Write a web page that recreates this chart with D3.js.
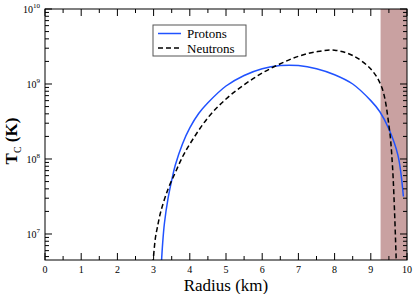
<!DOCTYPE html>
<html>
<head>
<meta charset="utf-8">
<script src="https://cdn.jsdelivr.net/npm/d3@7"></script>
<style>
  body { margin: 0; background: #fff; }
</style>
</head>
<body>
<script>
// radius (km) and critical temperature (K)
const protonR = [3.2, 3.25, 3.3, 3.4, 3.5, 3.6, 3.8, 4.0, 4.25, 4.5, 5.0, 5.5, 6.0, 6.5, 7.0, 7.5, 8.0, 8.5, 9.0, 9.25, 9.5, 9.75, 9.9];
const protonT = [3.0e6, 7.5e6, 1.4e7, 3.0e7, 5.2e7, 8.3e7, 1.6e8, 2.6e8, 4.07e8, 5.62e8, 9.4e8, 1.3e9, 1.6e9, 1.76e9, 1.76e9, 1.6e9, 1.33e9, 1.0e9, 6.0e8, 4.27e8, 2.51e8, 1.12e8, 3.16e7];
const neutronR = [2.98, 3.05, 3.1, 3.2, 3.4, 3.6, 3.8, 4.0, 4.5, 5.0, 5.5, 6.0, 6.5, 7.0, 7.5, 8.0, 8.5, 9.0, 9.3, 9.5, 9.6, 9.705];
const neutronT = [4.0e6, 8.9e6, 1.2e7, 2.0e7, 3.98e7, 6.6e7, 1.07e8, 1.58e8, 3.55e8, 6.31e8, 9.77e8, 1.40e9, 1.86e9, 2.34e9, 2.69e9, 2.82e9, 2.40e9, 1.58e9, 9.1e8, 2.82e8, 7.94e7, 4.0e6];
const shadeRange = [9.27, 10];
const xTicks = [0, 1, 2, 3, 4, 5, 6, 7, 8, 9, 10];
const yDecades = [7, 8, 9, 10];

const svgWidth = 415, svgHeight = 294;
const margin = { top: 9, right: 8, bottom: 34, left: 45 };
const width = svgWidth - margin.left - margin.right;
const height = svgHeight - margin.top - margin.bottom;
const serif = "'Liberation Serif', 'Times New Roman', Times, 'DejaVu Serif', serif";

const svg = d3.select("body")
  .append("svg")
  .attr("width", svgWidth)
  .attr("height", svgHeight)
  .attr("font-family", serif)
  .style("font-family", serif);

const g = svg.append("g")
  .attr("transform", `translate(${margin.left},${margin.top})`);

const x = d3.scaleLinear().domain([0, 10]).range([0, width]);
const y = d3.scaleLog().domain([4.5e6, 1e10]).range([height, 0]);

g.append("clipPath").attr("id", "plot")
  .append("rect").attr("width", width).attr("height", height);

// shaded crust region
g.append("rect")
  .attr("x", x(shadeRange[0]))
  .attr("y", 0)
  .attr("width", x(shadeRange[1]) - x(shadeRange[0]))
  .attr("height", height)
  .attr("fill", "#c9a1a1");

const line = d3.line()
  .x(d => x(d[0]))
  .y(d => y(d[1]))
  .curve(d3.curveCatmullRom.alpha(0.5));

const curves = g.append("g").attr("clip-path", "url(#plot)");

curves.append("path")
  .datum(protonR.map((r, i) => [r, protonT[i]]))
  .attr("d", line)
  .attr("fill", "none")
  .attr("stroke", "#2052ff")
  .attr("stroke-width", 1.5);

curves.append("path")
  .datum(neutronR.map((r, i) => [r, neutronT[i]]))
  .attr("d", line)
  .attr("fill", "none")
  .attr("stroke", "#000")
  .attr("stroke-width", 1.5)
  .attr("stroke-dasharray", "5,3");

// frame
g.append("rect")
  .attr("width", width).attr("height", height)
  .attr("fill", "none").attr("stroke", "#000").attr("stroke-width", 1);

// inward ticks, all four sides
const xMinor = d3.range(0.5, 10, 1);
const ticks = g.append("g").attr("stroke", "#000").attr("stroke-width", 1);
xTicks.forEach(t => {
  ticks.append("line").attr("x1", x(t)).attr("x2", x(t)).attr("y1", height).attr("y2", height - 7);
  ticks.append("line").attr("x1", x(t)).attr("x2", x(t)).attr("y1", 0).attr("y2", 7);
});
xMinor.forEach(t => {
  ticks.append("line").attr("x1", x(t)).attr("x2", x(t)).attr("y1", height).attr("y2", height - 4);
  ticks.append("line").attr("x1", x(t)).attr("x2", x(t)).attr("y1", 0).attr("y2", 4);
});
const yMinor = [];
[6, 7, 8, 9].forEach(e => d3.range(2, 10).forEach(m => {
  const v = m * Math.pow(10, e);
  if (v >= y.domain()[0] && v <= y.domain()[1]) yMinor.push(v);
}));
yDecades.forEach(e => {
  const yy = y(Math.pow(10, e));
  ticks.append("line").attr("x1", 0).attr("x2", 7).attr("y1", yy).attr("y2", yy);
  ticks.append("line").attr("x1", width).attr("x2", width - 7).attr("y1", yy).attr("y2", yy);
});
yMinor.forEach(v => {
  const yy = y(v);
  ticks.append("line").attr("x1", 0).attr("x2", 4).attr("y1", yy).attr("y2", yy);
  ticks.append("line").attr("x1", width).attr("x2", width - 4).attr("y1", yy).attr("y2", yy);
});

// tick labels
g.selectAll(".xlab")
  .data(xTicks)
  .enter()
  .append("text")
  .attr("x", d => x(d))
  .attr("y", height + 13)
  .attr("text-anchor", "middle")
  .attr("font-size", 10)
  .text(d => d);

yDecades.forEach(e => {
  const t = g.append("text")
    .attr("x", -5)
    .attr("y", y(Math.pow(10, e)) + 4)
    .attr("text-anchor", "end")
    .attr("font-size", 10);
  t.append("tspan").text("10");
  t.append("tspan").attr("dy", -5).attr("font-size", 7).text(e);
});

// axis titles
svg.append("text")
  .attr("x", margin.left + width / 2)
  .attr("y", 291)
  .attr("text-anchor", "middle")
  .attr("font-size", 17)
  .text("Radius (km)");

const yt = svg.append("text")
  .attr("transform", `translate(17,${margin.top + 132}) rotate(-90)`)
  .attr("text-anchor", "middle")
  .attr("font-size", 17)
  .attr("font-weight", "bold");
yt.append("tspan").text("T");
yt.append("tspan").attr("dy", 4).attr("font-size", 10).attr("font-weight", "normal").text("C");
yt.append("tspan").attr("dy", -4).text(" (K)");

// legend
const legend = svg.append("g").attr("transform", "translate(153,25)");
legend.append("rect")
  .attr("width", 93).attr("height", 31)
  .attr("fill", "#fff").attr("stroke", "#555").attr("stroke-width", 1);
const items = [
  { name: "Protons", color: "#2052ff", dash: null },
  { name: "Neutrons", color: "#000", dash: "5,3" }
];
items.forEach((d, i) => {
  const yy = 8.5 + i * 14.5;
  legend.append("line")
    .attr("x1", 5).attr("x2", 28).attr("y1", yy).attr("y2", yy)
    .attr("stroke", d.color).attr("stroke-width", 1.5)
    .attr("stroke-dasharray", d.dash);
  legend.append("text")
    .attr("x", 34).attr("y", yy + 4.5)
    .attr("font-size", 13)
    .text(d.name);
});
</script>
</body>
</html>
